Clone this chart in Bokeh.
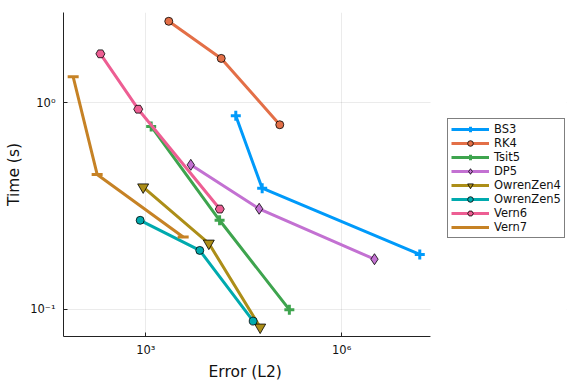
from bokeh.plotting import figure
from bokeh.models import Legend, LegendItem, FixedTicker, BoxAnnotation, Title
from bokeh.embed import file_html
from bokeh.resources import INLINE

names = ["BS3", "RK4", "Tsit5", "DP5", "OwrenZen4", "OwrenZen5", "Vern6", "Vern7"]
colors = ["#009AFA", "#E36F47", "#3EA44E", "#C371D2", "#AC8E18", "#00AAAE", "#ED5E93", "#C68225"]
markers = ["cross", "circle", "cross", "diamond", "inverted_triangle", "circle", "hex", "dash"]

errors = [
    [23900, 60600, 1.57e7],
    [2250, 14300, 112700],
    [1210, 13500, 158000],
    [4890, 54500, 3.18e6],
    [912, 9230, 56500],
    [821, 6710, 44200],
    [202, 766, 13600],
    [77.3, 180, 3740],
]
times = [
    [0.865, 0.386, 0.1845],
    [2.48, 1.64, 0.783],
    [0.768, 0.270, 0.0997],
    [0.501, 0.307, 0.175],
    [0.391, 0.209, 0.082],
    [0.270, 0.193, 0.0878],
    [1.726, 0.931, 0.306],
    [1.336, 0.450, 0.224],
]

x_ticks = [1e3, 1e6]
x_tick_labels = {1e3: "10\u00b3", 1e6: "10\u2076"}
y_ticks = [1e-1, 1e0]
y_tick_labels = {1e-1: "10\u207b\u00b9", 1e0: "10\u2070"}
x_label = "Error (L2)"
y_label = "Time (s)"

# visible axis extent (log10) and the extended frame end that holds the legend
x_axis_lo, x_axis_hi, x_frame_hi = 1.74, 7.36, 9.443
y_lo, y_hi = -1.131, 0.437

FONT = "DejaVu Sans"

p = figure(width=576, height=384, x_axis_type="log", y_axis_type="log",
           x_range=(10**x_axis_lo, 10**x_frame_hi), y_range=(10**y_lo, 10**y_hi),
           output_backend="svg", toolbar_location=None,
           min_border_left=63, min_border_right=10, min_border_top=12, min_border_bottom=48)
p.outline_line_color = None
p.background_fill_color = "white"

marker_sizes = {"cross": 10, "dash": 11, "circle": 8, "hex": 9, "diamond": 11, "inverted_triangle": 11}

items = []
for name, c, m, xs, ys in zip(names, colors, markers, errors, times):
    r1 = p.line(xs, ys, line_color=c, line_width=3)
    if m in ("cross", "dash"):
        r2 = p.scatter(xs, ys, marker=m, size=marker_sizes[m], line_color=c, line_width=3)
    else:
        r2 = p.scatter(xs, ys, marker=m, size=marker_sizes[m], fill_color=c, line_color="black", line_width=0.8)
    items.append(LegendItem(label=name, renderers=[r1, r2]))

# blank out the grid to the right of the axes area
p.add_layout(BoxAnnotation(left=10**x_axis_hi, fill_color="white", fill_alpha=1.0, line_alpha=0))

legend = Legend(items=items, location=(384, 98), orientation="vertical",
                glyph_width=38, glyph_height=14, label_height=14, spacing=0,
                padding=3, margin=0, label_standoff=5,
                label_text_font=FONT, label_text_font_size="11.5px", label_text_color="#111111",
                border_line_color="black", border_line_width=1, background_fill_alpha=1.0)
p.add_layout(legend, "center")

for ax in (p.xaxis[0], p.yaxis[0]):
    ax.major_label_text_font = FONT
    ax.major_label_text_font_size = "11.5px"
    ax.major_label_text_color = "#111111"
    ax.axis_label_text_font = FONT
    ax.axis_label_text_font_size = "15.5px"
    ax.axis_label_text_font_style = "normal"
    ax.axis_label_text_color = "#111111"
    ax.major_tick_in = 4
    ax.major_tick_out = 0
    ax.minor_tick_in = 0
    ax.minor_tick_out = 0
    ax.axis_line_color = "#222222"
    ax.major_tick_line_color = "#222222"

p.xaxis.bounds = (10**x_axis_lo, 10**x_axis_hi)
p.xaxis.ticker = FixedTicker(ticks=x_ticks)
p.yaxis.ticker = FixedTicker(ticks=y_ticks)
p.xaxis.major_label_overrides = x_tick_labels
p.yaxis.major_label_overrides = y_tick_labels
p.yaxis.axis_label = y_label
p.xaxis.major_label_standoff = 6
p.yaxis.major_label_standoff = 8
p.yaxis.axis_label_standoff = 4

# x-axis label centred under the visible axis (not the extended frame)
xt = Title(text=x_label, align="left", offset=145, standoff=2,
           text_font=FONT, text_font_size="15.5px", text_font_style="normal", text_color="#111111")
p.add_layout(xt, "below")

p.xgrid.ticker = FixedTicker(ticks=x_ticks)
p.ygrid.ticker = FixedTicker(ticks=y_ticks)
p.grid.grid_line_color = "black"
p.grid.grid_line_alpha = 0.08
p.grid.grid_line_width = 1

open("out.html", "w").write(file_html(p, INLINE))
